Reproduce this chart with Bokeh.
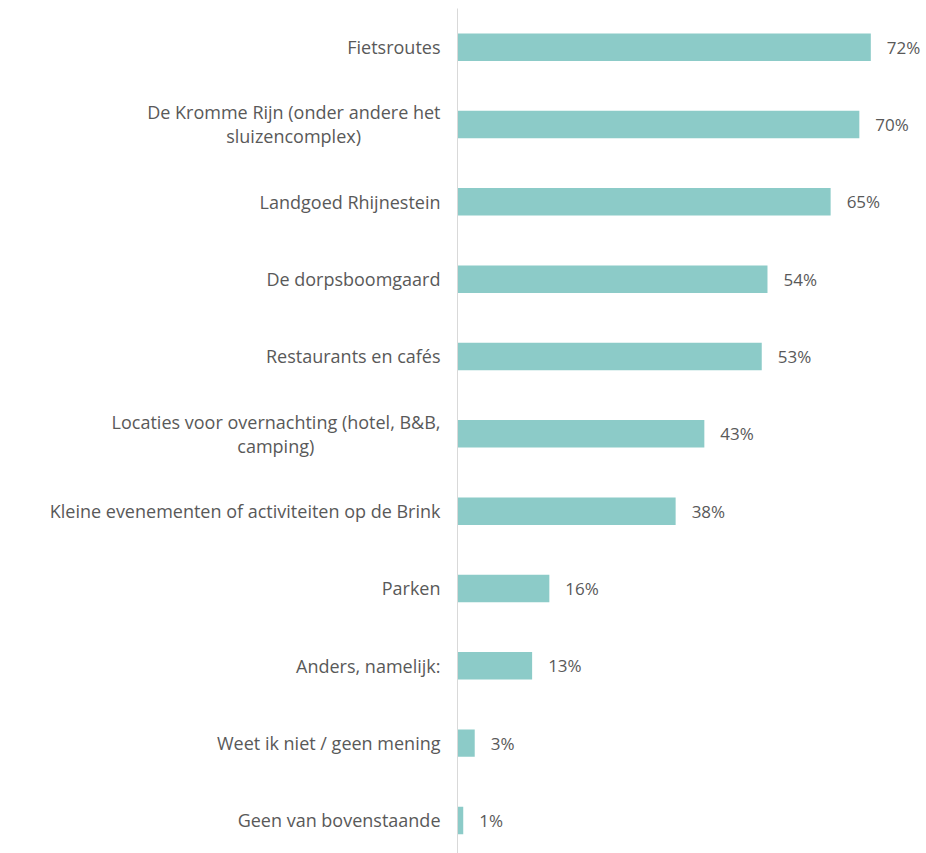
from bokeh.plotting import figure
from bokeh.models import Range1d, FixedTicker, ColumnDataSource, LinearAxis
from bokeh.embed import file_html
from bokeh.resources import INLINE
from bokeh.core.properties import value

categories = [
    "Fietsroutes",
    "De Kromme Rijn (onder andere het\nsluizencomplex)",
    "Landgoed Rhijnestein",
    "De dorpsboomgaard",
    "Restaurants en cafés",
    "Locaties voor overnachting (hotel, B&B,\ncamping)",
    "Kleine evenementen of activiteiten op de Brink",
    "Parken",
    "Anders, namelijk:",
    "Weet ik niet / geen mening",
    "Geen van bovenstaande",
]
values = [72, 70, 65, 54, 53, 43, 38, 16, 13, 3, 1]

positions = list(range(len(categories)))
labels = [f"{v}%" for v in values]

# visual centring of wrapped second lines (number of no-break spaces appended)
second_line_pad = {1: 17, 5: 27}


def display_label(i, text):
    n = second_line_pad.get(i, 0)
    return text + "\u00a0" * n if n else text


src = ColumnDataSource(dict(y=positions, v=values, lab=labels))

FONT = "Open Sans"
TXT = "#595959"

p = figure(width=926, height=853, output_backend="svg", toolbar_location=None,
           x_range=Range1d(0, 81.7), y_range=Range1d(10.427, -0.5),
           x_axis_location=None, y_axis_location=None,
           min_border_left=457, min_border_right=0, min_border_top=8, min_border_bottom=0)
p.outline_line_color = None
p.xgrid.grid_line_color = None
p.ygrid.grid_line_color = None

yaxis = LinearAxis(ticker=FixedTicker(ticks=positions),
                   major_label_overrides={i: display_label(i, c)
                                          for i, c in zip(positions, categories)})
yaxis.axis_line_color = "#d9d9d9"
yaxis.axis_line_width = 1
yaxis.major_tick_line_color = None
yaxis.minor_tick_line_color = None
yaxis.major_tick_in = 0
yaxis.major_tick_out = 0
yaxis.major_label_standoff = 17
yaxis.major_label_text_font = FONT
yaxis.major_label_text_font_size = "18px"
yaxis.major_label_text_line_height = 1.0
yaxis.major_label_text_color = TXT
p.add_layout(yaxis, "left")

p.hbar(y="y", right="v", left=0, height=0.355, source=src,
       fill_color="#8ccbc8", line_color=None)

p.text(x="v", y="y", text="lab", source=src, x_offset=16,
       text_align="left", text_baseline="middle",
       text_font=value(FONT), text_font_size="17px", text_color=TXT)

open("out.html", "w").write(file_html(p, INLINE))
